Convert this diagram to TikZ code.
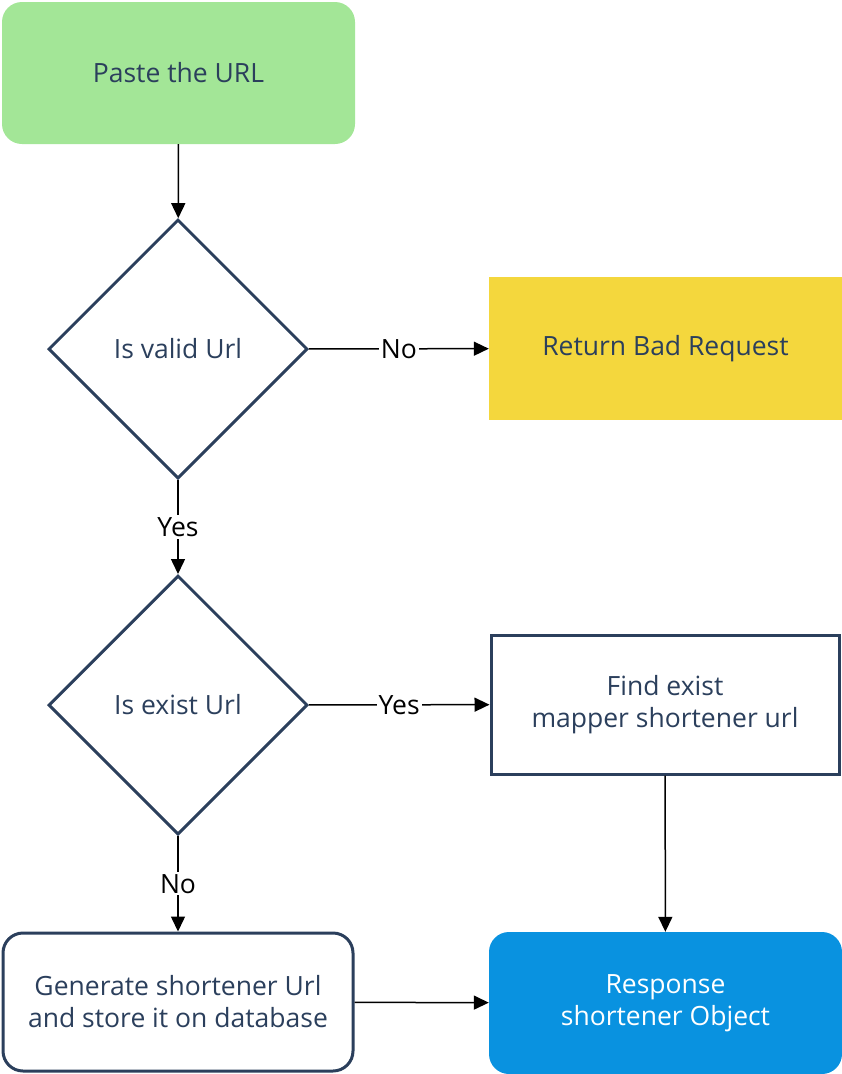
\documentclass[tikz,border=0pt]{standalone}
\usepackage{fontspec}
\setmainfont{Open Sans}
\usetikzlibrary{shapes.geometric,arrows.meta}
\definecolor{navy}{HTML}{2B3F5C}
\definecolor{startgreen}{HTML}{A3E697}
\definecolor{badyellow}{HTML}{F4D73D}
\definecolor{respblue}{HTML}{0992E0}
\begin{document}
\begin{tikzpicture}[x=1pt,y=-1pt,
    box/.style={minimum width=352pt,minimum height=141pt,inner sep=0pt,align=center,text=navy,font=\fontsize{26.5}{32}\selectfont},
    decision/.style={diamond,draw=navy,line width=3pt,minimum width=259pt,minimum height=259pt,inner sep=0pt,text=navy,font=\fontsize{26.5}{32}\selectfont},
    flow/.style={line width=1.5pt,-{Triangle[length=15pt,width=14pt]}},
    answer/.style={fill=white,inner sep=2pt,font=\fontsize{26.5}{30}\selectfont}]
  \useasboundingbox (0,0) rectangle (842,1074);
  % boxes
  \node[box,fill=startgreen,rounded corners=20pt,minimum width=353pt,minimum height=142pt] (paste) at (178.5,73) {Paste the URL};
  \node[decision] (valid) at (178,349) {Is valid Url};
  \node[box,fill=badyellow,minimum width=353pt,minimum height=143pt] (bad) at (665.5,348.5) {Return Bad Request};
  \node[decision] (exist) at (178,705) {Is exist Url};
  \node[box,draw=navy,line width=3pt,minimum width=348pt,minimum height=139pt] (find) at (665,704.5) {Find exist\\mapper shortener url};
  \node[box,draw=navy,line width=3pt,rounded corners=20pt,minimum width=350pt,minimum height=138pt] (generate) at (178,1002) {Generate shortener Url\\and store it on database};
  \node[box,fill=respblue,text=white,rounded corners=20pt,minimum width=353pt,minimum height=142pt] (response) at (665.5,1003) {Response\\shortener Object};
  % connectors
  \draw[flow] (paste) -- (valid);
  \draw[flow] (valid) -- node[answer] {No} (bad);
  \draw[flow] (valid) -- node[answer] {Yes} (exist);
  \draw[flow] (exist) -- node[answer] {Yes} (find);
  \draw[flow] (exist) -- node[answer] {No} (generate);
  \draw[flow] (find) -- (response);
  \draw[flow] (generate) -- (response);
\end{tikzpicture}
\end{document}
